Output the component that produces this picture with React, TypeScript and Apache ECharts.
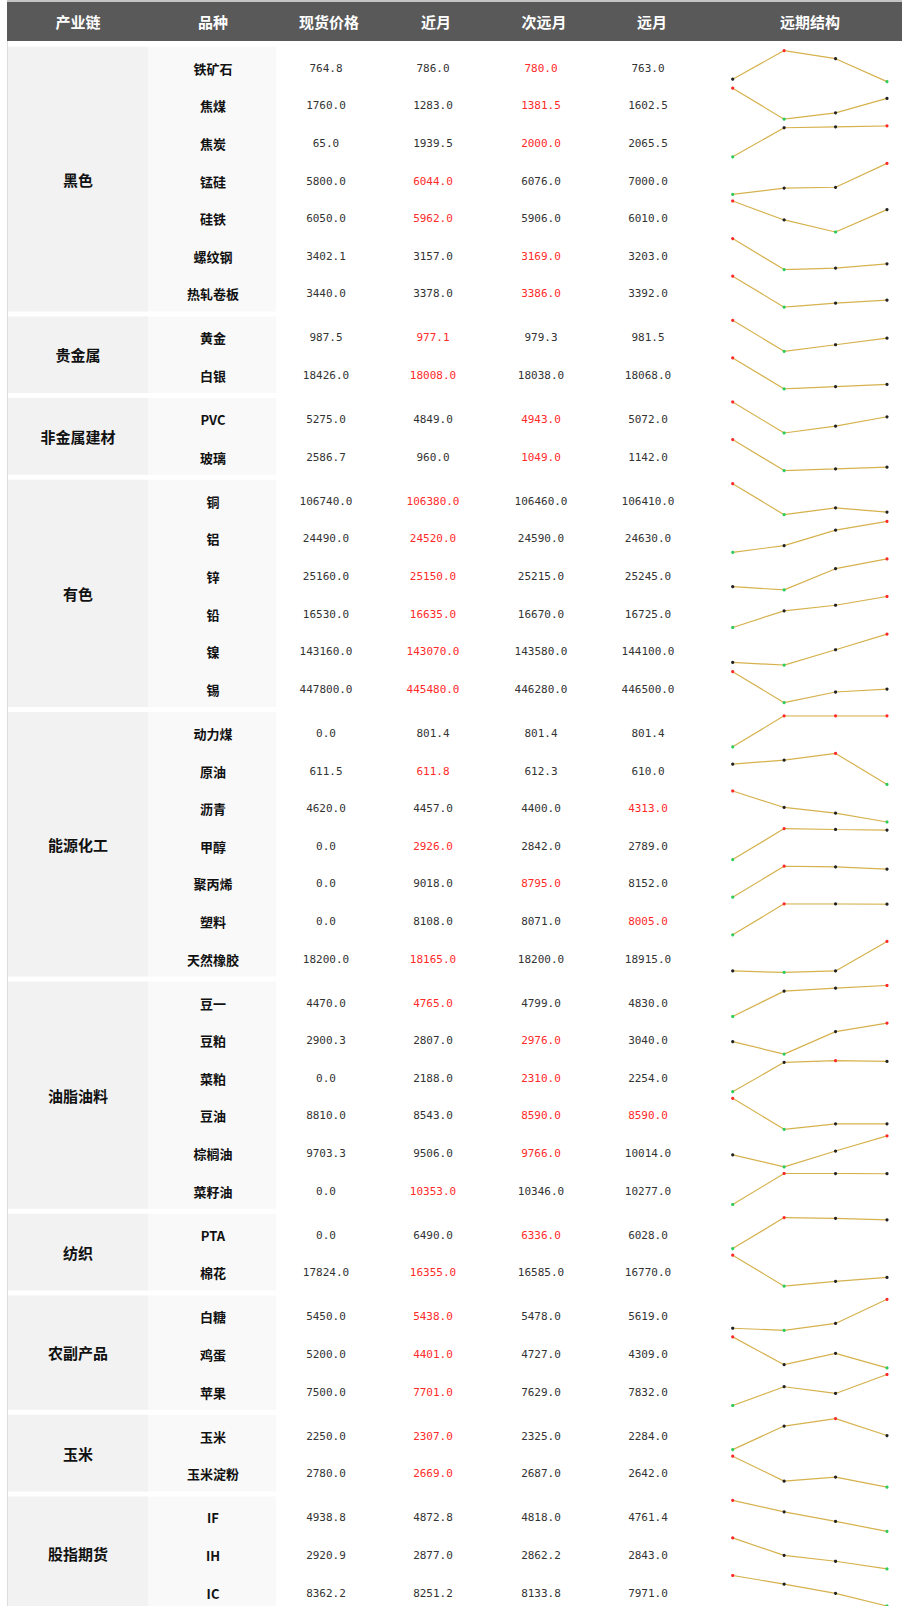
import React, { useEffect, useRef } from "react";
import * as echarts from "echarts";

const headers = ["产业链", "品种", "现货价格", "近月", "次远月", "远月", "远期结构"];
const groups = ["黑色", "贵金属", "非金属建材", "有色", "能源化工", "油脂油料", "纺织", "农副产品", "玉米", "股指期货"];
const groupSizes = [7, 2, 2, 6, 7, 6, 2, 3, 2, 3];
const varieties = [
  "铁矿石", "焦煤", "焦炭", "锰硅", "硅铁", "螺纹钢", "热轧卷板",
  "黄金", "白银",
  "PVC", "玻璃",
  "铜", "铝", "锌", "铅", "镍", "锡",
  "动力煤", "原油", "沥青", "甲醇", "聚丙烯", "塑料", "天然橡胶",
  "豆一", "豆粕", "菜粕", "豆油", "棕榈油", "菜籽油",
  "PTA", "棉花",
  "白糖", "鸡蛋", "苹果",
  "玉米", "玉米淀粉",
  "IF", "IH", "IC",
];
const spot = [
  764.8, 1760.0, 65.0, 5800.0, 6050.0, 3402.1, 3440.0,
  987.5, 18426.0,
  5275.0, 2586.7,
  106740.0, 24490.0, 25160.0, 16530.0, 143160.0, 447800.0,
  0.0, 611.5, 4620.0, 0.0, 0.0, 0.0, 18200.0,
  4470.0, 2900.3, 0.0, 8810.0, 9703.3, 0.0,
  0.0, 17824.0,
  5450.0, 5200.0, 7500.0,
  2250.0, 2780.0,
  4938.8, 2920.9, 8362.2,
];
const nearMonth = [
  786.0, 1283.0, 1939.5, 6044.0, 5962.0, 3157.0, 3378.0,
  977.1, 18008.0,
  4849.0, 960.0,
  106380.0, 24520.0, 25150.0, 16635.0, 143070.0, 445480.0,
  801.4, 611.8, 4457.0, 2926.0, 9018.0, 8108.0, 18165.0,
  4765.0, 2807.0, 2188.0, 8543.0, 9506.0, 10353.0,
  6490.0, 16355.0,
  5438.0, 4401.0, 7701.0,
  2307.0, 2669.0,
  4872.8, 2877.0, 8251.2,
];
const nextMonth = [
  780.0, 1381.5, 2000.0, 6076.0, 5906.0, 3169.0, 3386.0,
  979.3, 18038.0,
  4943.0, 1049.0,
  106460.0, 24590.0, 25215.0, 16670.0, 143580.0, 446280.0,
  801.4, 612.3, 4400.0, 2842.0, 8795.0, 8071.0, 18200.0,
  4799.0, 2976.0, 2310.0, 8590.0, 9766.0, 10346.0,
  6336.0, 16585.0,
  5478.0, 4727.0, 7629.0,
  2325.0, 2687.0,
  4818.0, 2862.2, 8133.8,
];
const farMonth = [
  763.0, 1602.5, 2065.5, 7000.0, 6010.0, 3203.0, 3392.0,
  981.5, 18068.0,
  5072.0, 1142.0,
  106410.0, 24630.0, 25245.0, 16725.0, 144100.0, 446500.0,
  801.4, 610.0, 4313.0, 2789.0, 8152.0, 8005.0, 18915.0,
  4830.0, 3040.0, 2254.0, 8590.0, 10014.0, 10277.0,
  6028.0, 16770.0,
  5619.0, 4309.0, 7832.0,
  2284.0, 2642.0,
  4761.4, 2843.0, 7971.0,
];
// which contract columns (1=近月, 2=次远月, 3=远月) are shown in red
const highlightCols: number[][] = [
  [2], [2], [2], [1], [1], [2], [2],
  [1], [1],
  [2], [2],
  [1], [1], [1], [1], [1], [1],
  [], [1], [3], [1], [2], [3], [1],
  [1], [2], [2], [2, 3], [2], [1],
  [2], [1],
  [1], [1], [1],
  [1], [1],
  [], [], [],
];
const structureLabels = ["现货", "近月", "次远月", "远月"];

const W = 902;
const H = 1606;
const ROW_H = 37.6;
const BODY_TOP = 46.7;
const GROUP_PAD = 2.7;
const GROUP_EXTRA = 1.5;
const GROUP_GAP = 5;
const TABLE_LEFT = 7;
const COL1_R = 148;
const COL2_R = 276;
const HEADER_X = [78, 213, 329, 436, 544, 652, 810];
const CELL_X = [78, 213, 326, 433, 541, 648];
const SPARK_LEFT = 732.7;
const SPARK_W = 154.3;
const SPARK_TOP = 1.2;
const SPARK_H = 31;

const TEXT = "#333333";
const RED = "#ff2a2a";
const GREEN = "#2ecc5a";
const DOT = "#222222";
const LINE = "#d6b24e";
const CJK = '"Noto Sans CJK SC", "Noto Sans", sans-serif';
const MONO = '"DejaVu Sans Mono", "Liberation Mono", monospace';

function buildOption() {
  const graphics: any[] = [];
  graphics.push({ type: "rect", shape: { x: TABLE_LEFT, y: 0, width: W - TABLE_LEFT, height: 2 }, style: { fill: "#c4c4c4" }, silent: true });
  graphics.push({ type: "rect", shape: { x: TABLE_LEFT, y: 2, width: W - TABLE_LEFT, height: 39 }, style: { fill: "#595959" }, silent: true });
  graphics.push({ type: "rect", shape: { x: TABLE_LEFT, y: 41, width: 1, height: H - 41 }, style: { fill: "#dcdcdc" }, silent: true });
  headers.forEach((h, i) => {
    graphics.push({
      type: "text",
      x: HEADER_X[i],
      y: 21.5,
      style: { text: h, fill: "#ffffff", font: `bold 15px ${CJK}`, align: "center", verticalAlign: "middle", textAlign: "center", textVerticalAlign: "middle" },
      silent: true,
    });
  });

  const grids: any[] = [];
  const xAxes: any[] = [];
  const yAxes: any[] = [];
  const series: any[] = [];

  let top = BODY_TOP;
  let idx = 0;
  groups.forEach((g, gi) => {
    const n = groupSizes[gi];
    const bgH = n * ROW_H + GROUP_EXTRA;
    graphics.push({ type: "rect", shape: { x: TABLE_LEFT + 1, y: top, width: COL1_R - TABLE_LEFT - 1, height: bgH }, style: { fill: "#f2f2f2" }, silent: true });
    graphics.push({ type: "rect", shape: { x: COL1_R, y: top, width: COL2_R - COL1_R, height: bgH }, style: { fill: "#f9f9f9" }, silent: true });
    graphics.push({
      type: "text",
      x: CELL_X[0],
      y: top + bgH / 2,
      style: { text: g, fill: "#111111", font: `bold 15px ${CJK}`, align: "center", verticalAlign: "middle", textAlign: "center", textVerticalAlign: "middle" },
      silent: true,
    });
    for (let r = 0; r < n; r++) {
      const rowTop = top + GROUP_PAD + r * ROW_H;
      const cy = rowTop + ROW_H / 2;
      graphics.push({
        type: "text",
        x: CELL_X[1],
        y: cy,
        style: { text: varieties[idx], fill: "#111111", font: `bold 13px ${CJK}`, align: "center", verticalAlign: "middle", textAlign: "center", textVerticalAlign: "middle" },
        silent: true,
      });
      const vals = [spot[idx], nearMonth[idx], nextMonth[idx], farMonth[idx]];
      vals.forEach((v, c) => {
        const red = highlightCols[idx].includes(c);
        graphics.push({
          type: "text",
          x: CELL_X[2 + c],
          y: cy,
          style: { text: v.toFixed(1), fill: red ? RED : TEXT, font: `11px ${MONO}`, align: "center", verticalAlign: "middle", textAlign: "center", textVerticalAlign: "middle" },
          silent: true,
        });
      });
      const mx = Math.max(...vals);
      const mn = Math.min(...vals);
      grids.push({ left: SPARK_LEFT, top: rowTop + SPARK_TOP, width: SPARK_W, height: SPARK_H, containLabel: false });
      xAxes.push({ type: "category", gridIndex: idx, data: structureLabels, boundaryGap: false, show: false });
      yAxes.push({ type: "value", gridIndex: idx, min: mn, max: mx, show: false, scale: true });
      series.push({
        type: "line",
        xAxisIndex: idx,
        yAxisIndex: idx,
        data: vals.map((v) => ({ value: v, itemStyle: { color: v === mx ? RED : v === mn ? GREEN : DOT } })),
        symbol: "circle",
        symbolSize: 3.2,
        showSymbol: true,
        lineStyle: { color: LINE, width: 1.2 },
        itemStyle: { borderWidth: 0 },
        silent: true,
        z: 3,
      });
      idx++;
    }
    top += bgH + GROUP_GAP;
  });

  return {
    animation: false,
    backgroundColor: "#ffffff",
    grid: grids,
    xAxis: xAxes,
    yAxis: yAxes,
    series,
    graphic: { elements: graphics },
  };
}

export default function App() {
  const ref = useRef<HTMLDivElement>(null);
  useEffect(() => {
    if (!ref.current) return;
    const chart = echarts.init(ref.current, undefined, { renderer: "svg" });
    chart.setOption(buildOption() as any);
    return () => chart.dispose();
  }, []);
  return <div ref={ref} style={{ position: "absolute", left: 0, top: 0, width: W, height: H }} />;
}
